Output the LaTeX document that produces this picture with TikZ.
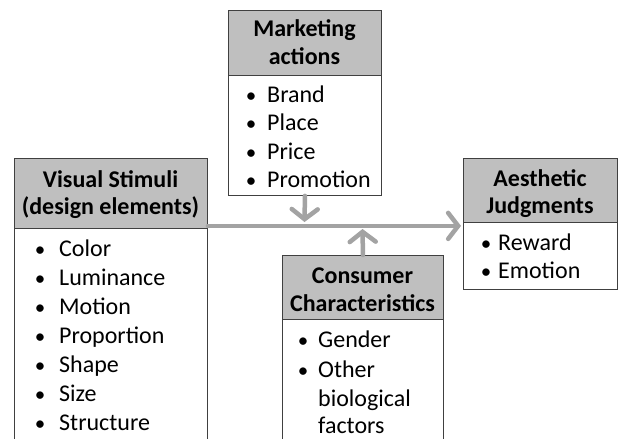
\documentclass[tikz,border=0pt]{standalone}
\usepackage{fontspec}
\setmainfont{Carlito}
\usetikzlibrary{arrows.meta}
\definecolor{hdrgray}{HTML}{BFBFBF}
\definecolor{boxline}{HTML}{404040}
\definecolor{arrgray}{HTML}{A3A3A3}
\tikzset{
  hdr/.style={draw=boxline, line width=0.9pt, fill=hdrgray},
  bodybox/.style={draw=boxline, line width=0.9pt, fill=white},
  htxt/.style={anchor=base, inner sep=0pt, font=\fontsize{24}{28}\selectfont\bfseries},
  itm/.style={anchor=base west, inner sep=0pt, font=\fontsize{24}{28}\selectfont},
  bul/.style={anchor=base, inner sep=0pt, font=\fontsize{21}{25}\selectfont},
  conn/.style={draw=arrgray, line width=4.5pt, line cap=round,
    -{Straight Barb[length=10pt,width=26pt,line cap=round]}}
}
\begin{document}
\begin{tikzpicture}[x=1pt,y=-1pt]
\clip (0,0) rectangle (619,439);
\fill[white] (0,0) rectangle (619,439);
% boxes as nodes
\node[hdr, anchor=north west, minimum width=193pt, minimum height=70pt, inner sep=0pt] (vsh) at (14,158) {};
\node[bodybox, anchor=north west, minimum width=193pt, minimum height=230pt, inner sep=0pt] (vsb) at (14,228) {};
\node[hdr, anchor=north west, minimum width=153pt, minimum height=65pt, inner sep=0pt] (mah) at (228,10) {};
\node[bodybox, anchor=north west, minimum width=153pt, minimum height=120pt, inner sep=0pt] (mab) at (228,75) {};
\node[hdr, anchor=north west, minimum width=161pt, minimum height=64pt, inner sep=0pt] (cch) at (282,255) {};
\node[bodybox, anchor=north west, minimum width=161pt, minimum height=200pt, inner sep=0pt] (ccb) at (282,319) {};
\node[hdr, anchor=north west, minimum width=154pt, minimum height=64pt, inner sep=0pt] (ajh) at (463,158) {};
\node[bodybox, anchor=north west, minimum width=154pt, minimum height=67pt, inner sep=0pt] (ajb) at (463,222) {};
% connectors
\coordinate (mtip) at (304.5,222);
\coordinate (ctip) at (362.5,229);
\draw[conn] ([yshift=3pt]vsh.south east) -- ([yshift=-3pt,xshift=-2pt]ajh.south west);
\draw[conn] (mab.south) -- (mtip);
\draw[conn] (cch.north) -- (ctip);
% header texts
\node[htxt] (vst1) at (110.5,187) {Visual Stimuli};
\node[htxt] (vst2) at (110.5,214) {(design elements)};
\node[htxt] (mat1) at (304.5,36) {Marketing};
\node[htxt] (mat2) at (304.5,64) {actions};
\node[htxt] (cct1) at (362.5,283) {Consumer};
\node[htxt] (cct2) at (362.5,311) {Characteristics};
\node[htxt] (ajt1) at (540,186) {Aesthetic};
\node[htxt] (ajt2) at (540,213) {Judgments};
% lists
\foreach \t [count=\i] in {Color,Luminance,Motion,Proportion,Shape,Size,Structure} {
  \node[bul] (vsbul\i) at (40,{256+29*(\i-1)}) {•};
  \node[itm] (vsit\i) at (59,{256+29*(\i-1)}) {\t};
}
\foreach \t [count=\i] in {Brand,Place,Price,Promotion} {
  \node[bul] (mabul\i) at (251,{102.5+28.4*(\i-1)}) {•};
  \node[itm] (mait\i) at (267,{102.5+28.4*(\i-1)}) {\t};
}
\node[bul] (ccbul1) at (303,347) {•};
\node[itm] (ccit1) at (318,347) {Gender};
\node[bul] (ccbul2) at (303,377) {•};
\node[itm] (ccit2) at (318,377) {Other};
\node[itm] (ccit3) at (318,406) {biological};
\node[itm] (ccit4) at (318,433.5) {factors};
\node[bul] (ajbul1) at (486,250.5) {•};
\node[itm] (ajit1) at (498,250.5) {Reward};
\node[bul] (ajbul2) at (486,278) {•};
\node[itm] (ajit2) at (498,278) {Emotion};
\end{tikzpicture}
\end{document}
